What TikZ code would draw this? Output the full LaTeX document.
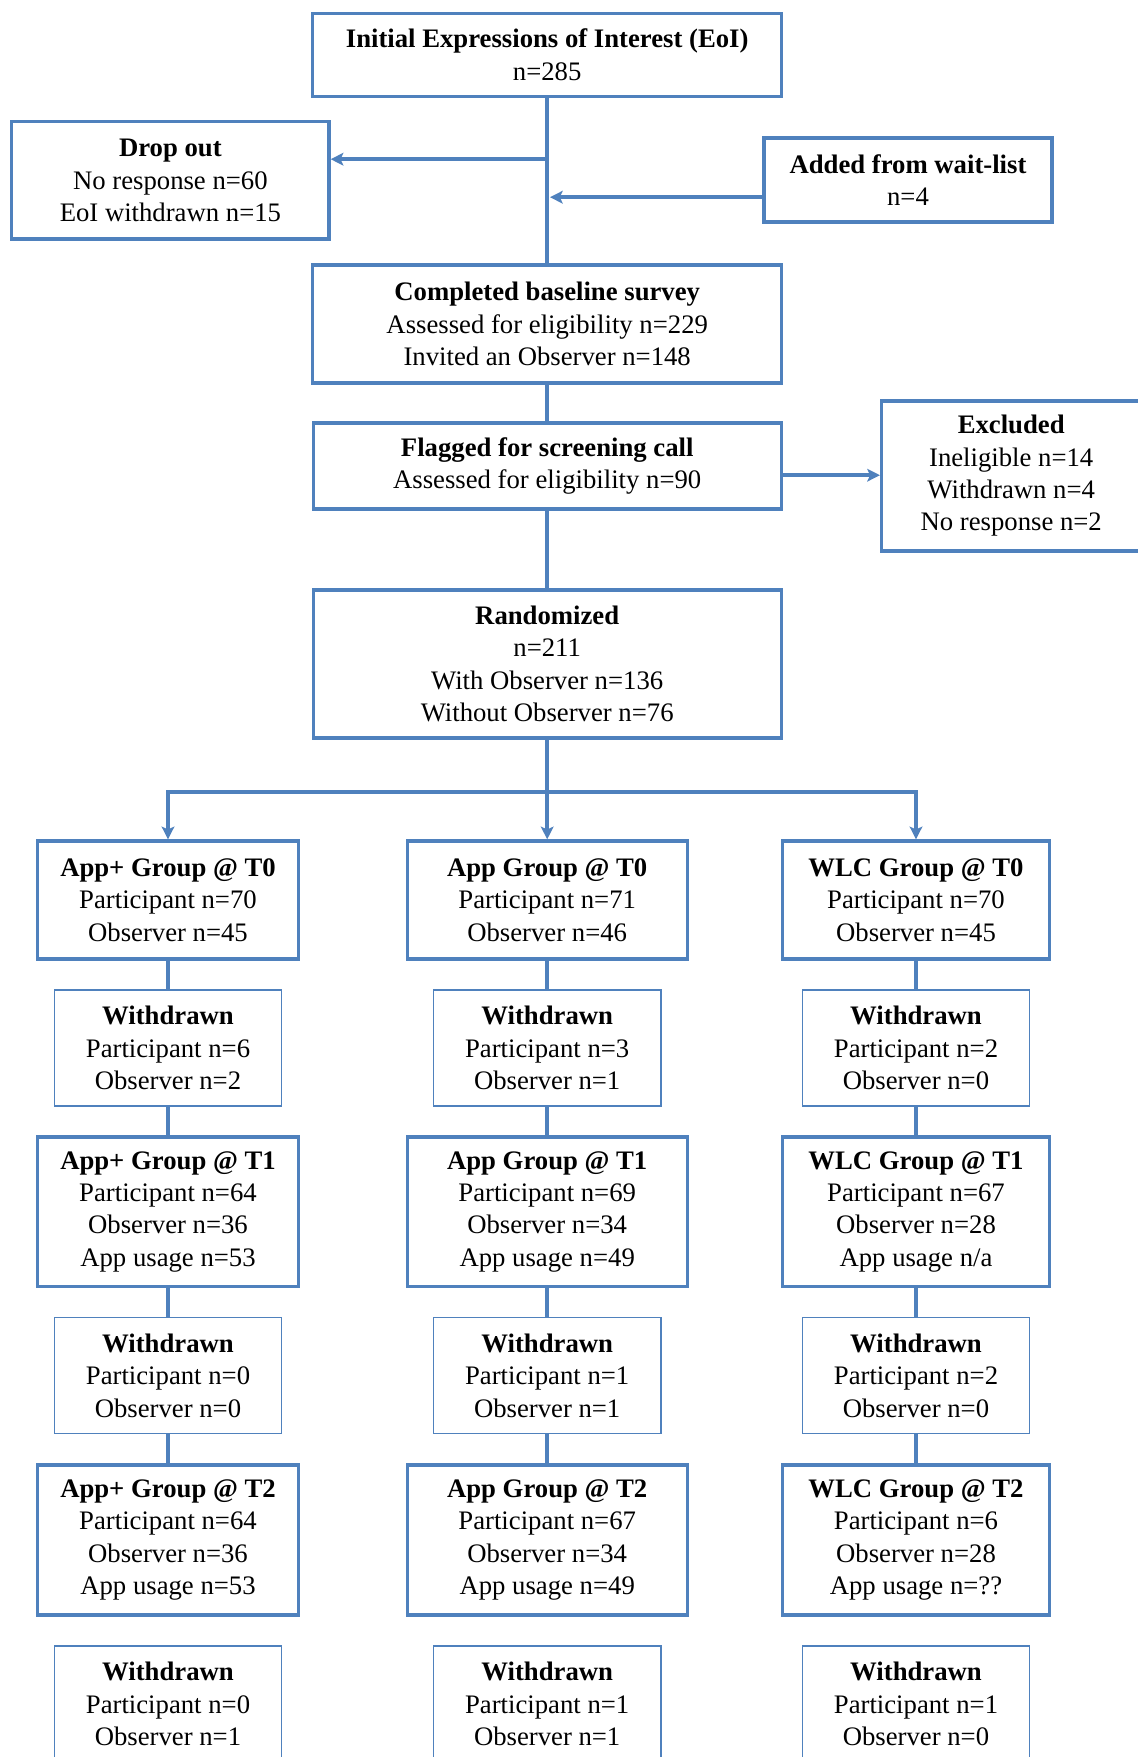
\documentclass[tikz,border=0pt]{standalone}
\usepackage{fontspec}
\setmainfont{Liberation Serif}
\usetikzlibrary{arrows.meta,positioning}

\begin{document}
\begin{tikzpicture}[>={Stealth[width=9pt,length=9pt,inset=2pt]},
  every node/.style={font=\fontsize{19}{23}\selectfont, align=center},
  bigbox/.style={draw=flowblue, line width=2.4pt, fill=white},
  wdbox/.style={draw=flowblue, line width=1.2pt, fill=white, minimum width=5.68cm, minimum height=2.9cm},
  flow/.style={draw=flowblue, line width=2.6pt}]
  % Define colors
  \definecolor{flowblue}{HTML}{4F81BD}

  % Page
  \path[use as bounding box, fill=white] (0,0) rectangle (28.425,-43.925);

  % Enrolment
  \node[bigbox, minimum width=11.73cm, minimum height=2.08cm] (eoi) at (13.68,-1.37) {\textbf{Initial Expressions of Interest (EoI)}\\n=285};
  \node[bigbox, minimum width=7.93cm, minimum height=2.93cm] (dropout) at (4.26,-4.51) {\textbf{Drop out}\\No response n=60\\EoI withdrawn n=15};
  \node[bigbox, minimum width=7.2cm, minimum height=2.1cm] (waitlist) at (22.7,-4.5) {\textbf{Added from wait-list}\\n=4};
  \node[bigbox, minimum width=11.73cm, minimum height=2.95cm] (baseline) at (13.68,-8.1) {\textbf{Completed baseline survey}\\Assessed for eligibility n=229\\Invited an Observer n=148};
  \node[bigbox, minimum width=11.7cm, minimum height=2.15cm] (flagged) at (13.68,-11.65) {\textbf{Flagged for screening call}\\Assessed for eligibility n=90};
  \node[bigbox, minimum width=6.48cm, minimum height=3.75cm] (excluded) at (25.28,-11.9) {\textbf{Excluded}\\Ineligible n=14\\Withdrawn n=4\\No response n=2};
  \node[bigbox, minimum width=11.7cm, minimum height=3.7cm] (random) at (13.68,-16.6) {\textbf{Randomized}\\n=211\\With Observer n=136\\Without Observer n=76};

  % Enrolment connectors
  \coordinate (dropfork) at (13.68,-3.98);
  \coordinate (waitjoin) at (13.75,-4.93);
  \coordinate (exfork) at (19.53,-11.88);
  \coordinate (split) at (13.68,-19.8);
  \draw[flow] (eoi) -- (baseline);
  \draw[flow,->] (dropfork) -- (dropfork -| dropout.east);
  \draw[flow,->] (waitlist.west |- waitjoin) -- (waitjoin);
  \draw[flow] (baseline) -- (flagged);
  \draw[flow,->] (exfork) -- (exfork -| excluded.west);
  \draw[flow] (flagged) -- (random);
  \draw[flow] (random) -- (split);

  % T0
  \node[bigbox, minimum width=6.53cm, minimum height=2.95cm] (t0a) at (4.2,-22.5) {\textbf{App+ Group @ T0}\\Participant n=70\\Observer n=45};
  \node[bigbox, minimum width=7.0cm, minimum height=2.95cm] (t0b) at (13.68,-22.5) {\textbf{App Group @ T0}\\Participant n=71\\Observer n=46};
  \node[bigbox, minimum width=6.68cm, minimum height=2.95cm] (t0c) at (22.9,-22.5) {\textbf{WLC Group @ T0}\\Participant n=70\\Observer n=45};

  \draw[flow,->] (split) -| (t0a);
  \draw[flow,->] (split) -- (t0b);
  \draw[flow,->] (split) -| (t0c);

  % Withdrawn after T0
  \node[wdbox] (w1a) at (4.2,-26.2) {\textbf{Withdrawn}\\Participant n=6\\Observer n=2};
  \node[wdbox] (w1b) at (13.68,-26.2) {\textbf{Withdrawn}\\Participant n=3\\Observer n=1};
  \node[wdbox] (w1c) at (22.9,-26.2) {\textbf{Withdrawn}\\Participant n=2\\Observer n=0};

  % T1
  \node[bigbox, minimum width=6.53cm, minimum height=3.73cm] (t1a) at (4.2,-30.29) {\textbf{App+ Group @ T1}\\Participant n=64\\Observer n=36\\App usage n=53};
  \node[bigbox, minimum width=7.0cm, minimum height=3.73cm] (t1b) at (13.68,-30.29) {\textbf{App Group @ T1}\\Participant n=69\\Observer n=34\\App usage n=49};
  \node[bigbox, minimum width=6.68cm, minimum height=3.73cm] (t1c) at (22.9,-30.29) {\textbf{WLC Group @ T1}\\Participant n=67\\Observer n=28\\App usage n/a};

  % Withdrawn after T1
  \node[wdbox] (w2a) at (4.2,-34.39) {\textbf{Withdrawn}\\Participant n=0\\Observer n=0};
  \node[wdbox] (w2b) at (13.68,-34.39) {\textbf{Withdrawn}\\Participant n=1\\Observer n=1};
  \node[wdbox] (w2c) at (22.9,-34.39) {\textbf{Withdrawn}\\Participant n=2\\Observer n=0};

  % T2
  \node[bigbox, minimum width=6.53cm, minimum height=3.75cm] (t2a) at (4.2,-38.5) {\textbf{App+ Group @ T2}\\Participant n=64\\Observer n=36\\App usage n=53};
  \node[bigbox, minimum width=7.0cm, minimum height=3.75cm] (t2b) at (13.68,-38.5) {\textbf{App Group @ T2}\\Participant n=67\\Observer n=34\\App usage n=49};
  \node[bigbox, minimum width=6.68cm, minimum height=3.75cm] (t2c) at (22.9,-38.5) {\textbf{WLC Group @ T2}\\Participant n=6\\Observer n=28\\App usage n=??};

  % Withdrawn after T2
  \node[wdbox] (w3a) at (4.2,-42.6) {\textbf{Withdrawn}\\Participant n=0\\Observer n=1};
  \node[wdbox] (w3b) at (13.68,-42.6) {\textbf{Withdrawn}\\Participant n=1\\Observer n=1};
  \node[wdbox] (w3c) at (22.9,-42.6) {\textbf{Withdrawn}\\Participant n=1\\Observer n=0};

  % Column connectors
  \draw[flow] (t0a) -- (w1a);
  \draw[flow] (w1a) -- (t1a);
  \draw[flow] (t1a) -- (w2a);
  \draw[flow] (w2a) -- (t2a);
  \draw[flow] (t0b) -- (w1b);
  \draw[flow] (w1b) -- (t1b);
  \draw[flow] (t1b) -- (w2b);
  \draw[flow] (w2b) -- (t2b);
  \draw[flow] (t0c) -- (w1c);
  \draw[flow] (w1c) -- (t1c);
  \draw[flow] (t1c) -- (w2c);
  \draw[flow] (w2c) -- (t2c);
\end{tikzpicture}
\end{document}
